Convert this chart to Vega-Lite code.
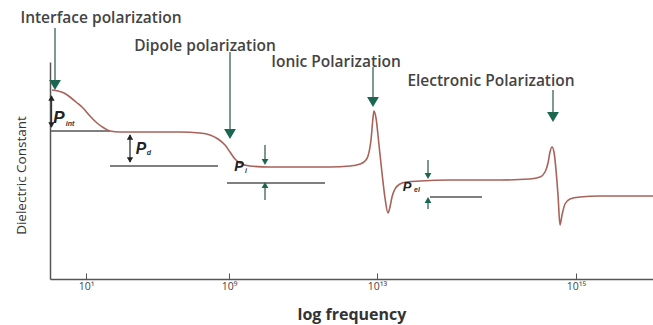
{
  "$schema": "https://vega.github.io/schema/vega-lite/v6.json",
  "width": 603,
  "height": 217,
  "padding": {"left": 50, "top": 62, "right": 0, "bottom": 46},
  "autosize": {"type": "none"},
  "background": "white",
  "config": {
    "view": {"stroke": null},
    "font": "Open Sans"
  },
  "datasets": {
    "curve": [
      {"pos": 2, "level": 189}, {"pos": 8, "level": 188}, {"pos": 14, "level": 186},
      {"pos": 20, "level": 182}, {"pos": 26, "level": 177}, {"pos": 33, "level": 171},
      {"pos": 40, "level": 163}, {"pos": 47, "level": 156}, {"pos": 54, "level": 151},
      {"pos": 60, "level": 148}, {"pos": 70, "level": 147}, {"pos": 100, "level": 147},
      {"pos": 130, "level": 147}, {"pos": 150, "level": 146}, {"pos": 160, "level": 144},
      {"pos": 168, "level": 140}, {"pos": 175, "level": 134}, {"pos": 180, "level": 127},
      {"pos": 185, "level": 120}, {"pos": 190, "level": 116}, {"pos": 200, "level": 113},
      {"pos": 220, "level": 112}, {"pos": 250, "level": 112}, {"pos": 280, "level": 112},
      {"pos": 300, "level": 113}, {"pos": 310, "level": 115}, {"pos": 315, "level": 118},
      {"pos": 318, "level": 123}, {"pos": 321, "level": 139}, {"pos": 323, "level": 161},
      {"pos": 324, "level": 168}, {"pos": 326, "level": 161}, {"pos": 329, "level": 134},
      {"pos": 332, "level": 106}, {"pos": 335, "level": 81}, {"pos": 338, "level": 66},
      {"pos": 340, "level": 72}, {"pos": 342, "level": 82}, {"pos": 345, "level": 90},
      {"pos": 350, "level": 95}, {"pos": 357, "level": 97}, {"pos": 370, "level": 98},
      {"pos": 400, "level": 99}, {"pos": 450, "level": 99}, {"pos": 480, "level": 100},
      {"pos": 490, "level": 102}, {"pos": 495, "level": 107}, {"pos": 498, "level": 116},
      {"pos": 500, "level": 127}, {"pos": 502, "level": 132}, {"pos": 504, "level": 127},
      {"pos": 506, "level": 109}, {"pos": 508, "level": 84}, {"pos": 510, "level": 54},
      {"pos": 512, "level": 64}, {"pos": 515, "level": 75}, {"pos": 520, "level": 80},
      {"pos": 530, "level": 82}, {"pos": 550, "level": 83}, {"pos": 603, "level": 83}
    ],
    "baselines": [
      {"pos": 0, "pos2": 60, "level": 148},
      {"pos": 60, "pos2": 168, "level": 113},
      {"pos": 177, "pos2": 275, "level": 96},
      {"pos": 380, "pos2": 432, "level": 82}
    ],
    "blackShafts": [
      {"pos": 1.5, "level": 183, "level2": 152},
      {"pos": 80, "level": 144, "level2": 117}
    ],
    "blackHeads": [
      {"pos": 1.5, "level": 181, "dir": "up"},
      {"pos": 1.5, "level": 154, "dir": "down"},
      {"pos": 80, "level": 142, "dir": "up"},
      {"pos": 80, "level": 119, "dir": "down"}
    ],
    "greenShafts": [
      {"pos": 5, "level": 251, "level2": 198},
      {"pos": 180, "level": 227, "level2": 150},
      {"pos": 323, "level": 212, "level2": 180},
      {"pos": 503, "level": 189, "level2": 167},
      {"pos": 215, "level": 134, "level2": 120},
      {"pos": 215, "level": 93, "level2": 79},
      {"pos": 378, "level": 119, "level2": 105},
      {"pos": 378, "level": 78, "level2": 70}
    ],
    "bigHeads": [
      {"pos": 5, "level": 194},
      {"pos": 180, "level": 145},
      {"pos": 323, "level": 177},
      {"pos": 503, "level": 162}
    ],
    "smallHeads": [
      {"pos": 215, "level": 117, "dir": "down"},
      {"pos": 215, "level": 94, "dir": "up"},
      {"pos": 378, "level": 103, "dir": "down"},
      {"pos": 378, "level": 79, "dir": "up"}
    ],
    "mechanisms": [
      {"pos": 51, "level": 261, "label": "Interface polarization"},
      {"pos": 155, "level": 233, "label": "Dipole polarization"},
      {"pos": 286, "level": 217, "label": "Ionic Polarization"},
      {"pos": 441, "level": 198, "label": "Electronic Polarization"}
    ],
    "symbols": [
      {"pos": 9, "level": 161, "label": "P", "term": "int"},
      {"pos": 91, "level": 130, "label": "P", "term": "d"},
      {"pos": 189, "level": 112, "label": "P", "term": "i"},
      {"pos": 357, "level": 92, "label": "P", "term": "el"}
    ],
    "subscripts": [
      {"pos": 20, "level": 155, "label": "int"},
      {"pos": 99, "level": 126, "label": "d"},
      {"pos": 196, "level": 108, "label": "i"},
      {"pos": 367, "level": 89, "label": "el"}
    ]
  },
  "encoding": {
    "x": {
      "field": "pos",
      "type": "quantitative",
      "scale": {"domain": [0, 603], "nice": false, "zero": false},
      "axis": {
        "title": "log frequency",
        "titleFont": "Open Sans",
        "titleFontSize": 16,
        "titleFontWeight": "bold",
        "titleColor": "#333333",
        "titleBaseline": "top",
        "titleY": 27,
        "values": [36, 179, 327, 526],
        "labelExpr": "datum.value == 36 ? '10¹' : datum.value == 179 ? '10⁹' : datum.value == 327 ? '10¹³' : '10¹⁵'",
        "labelFontSize": 10.5,
        "labelColor": "#444444",
        "labelPadding": 8,
        "tickSize": -6,
        "tickColor": "#555555",
        "domainColor": "#555555",
        "domainWidth": 1.5,
        "grid": false
      }
    },
    "y": {
      "field": "level",
      "type": "quantitative",
      "scale": {"domain": [0, 217], "nice": false, "zero": false},
      "axis": {
        "title": "Dielectric Constant",
        "titleFont": "Open Sans",
        "titleFontSize": 13.5,
        "titleFontWeight": "normal",
        "titleColor": "#333333",
        "titlePadding": 22,
        "titleY": 113,
        "labels": false,
        "ticks": false,
        "grid": false,
        "domainColor": "#555555",
        "domainWidth": 1.5
      }
    }
  },
  "layer": [
    {
      "data": {"name": "baselines"},
      "mark": {"type": "rule", "color": "#555555", "strokeWidth": 1.5},
      "encoding": {"x2": {"field": "pos2"}}
    },
    {
      "data": {"name": "curve"},
      "mark": {"type": "line", "interpolate": "monotone", "color": "#a9625a", "strokeWidth": 1.6}
    },
    {
      "data": {"name": "blackShafts"},
      "mark": {"type": "rule", "color": "#333333", "strokeWidth": 1.3},
      "encoding": {"y2": {"field": "level2"}}
    },
    {
      "data": {"name": "blackHeads"},
      "mark": {"type": "point", "filled": true, "color": "#222222", "size": 40, "opacity": 1},
      "encoding": {
        "shape": {
          "field": "dir",
          "type": "nominal",
          "scale": {"domain": ["up", "down"], "range": ["triangle-up", "triangle-down"]},
          "legend": null
        }
      }
    },
    {
      "data": {"name": "greenShafts"},
      "mark": {"type": "rule", "color": "#6f8f85", "strokeWidth": 1.8},
      "encoding": {"y2": {"field": "level2"}}
    },
    {
      "data": {"name": "bigHeads"},
      "mark": {"type": "point", "filled": true, "shape": "triangle-down", "color": "#1b6651", "size": 140, "opacity": 1}
    },
    {
      "data": {"name": "smallHeads"},
      "mark": {"type": "point", "filled": true, "color": "#1b6651", "size": 45, "opacity": 1},
      "encoding": {
        "shape": {
          "field": "dir",
          "type": "nominal",
          "scale": {"domain": ["up", "down"], "range": ["triangle-up", "triangle-down"]},
          "legend": null
        }
      }
    },
    {
      "data": {"name": "mechanisms"},
      "mark": {"type": "text", "font": "Open Sans", "fontSize": 15.5, "fontWeight": 600, "color": "#444444", "align": "center", "baseline": "middle"},
      "encoding": {"text": {"field": "label"}}
    },
    {
      "data": {"name": "symbols"},
      "mark": {"type": "text", "font": "Liberation Sans", "fontWeight": "bold", "fontStyle": "italic", "color": "#222222", "align": "center", "baseline": "middle"},
      "encoding": {
        "text": {"field": "label"},
        "size": {
          "field": "term",
          "type": "ordinal",
          "scale": {"domain": ["int", "d", "i", "el"], "range": [17, 13, 12, 15]},
          "legend": null
        }
      }
    },
    {
      "data": {"name": "subscripts"},
      "mark": {"type": "text", "font": "Liberation Sans", "fontSize": 7, "fontWeight": "bold", "fontStyle": "italic", "color": "#333333", "align": "center", "baseline": "middle"},
      "encoding": {"text": {"field": "label"}}
    }
  ]
}
